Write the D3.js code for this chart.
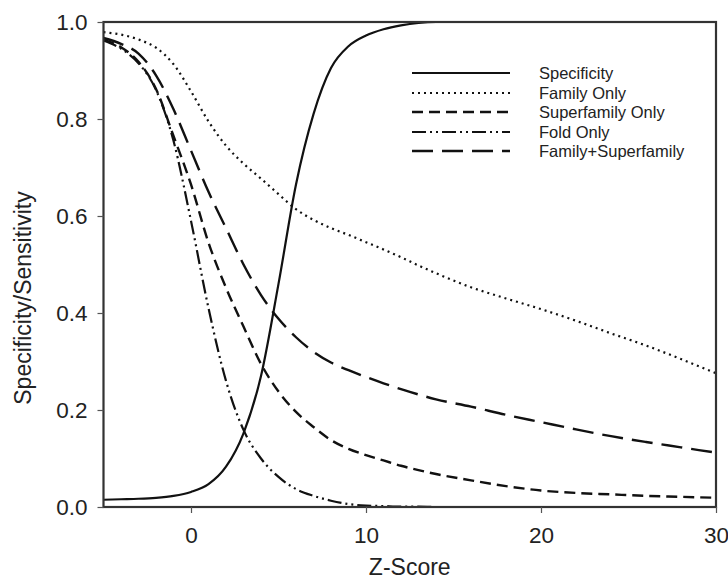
<!DOCTYPE html>
<html>
<head>
<meta charset="utf-8">
<script src="https://cdn.jsdelivr.net/npm/d3@7"></script>
<style>
  html, body { margin: 0; padding: 0; background: #fff; }
  svg { display: block; font-family: "Liberation Sans", Arial, sans-serif; }
</style>
</head>
<body>
<svg id="chart" width="728" height="579"></svg>
<script>
// ---- data ----
const zScores = [-5,-4,-3,-2,-1,0,1,2,3,4,5,6,7,8,9,10,11,12,13,14,16,18,20,22,24,26,28,30];
const specificity = [0.015,0.016,0.017,0.019,0.023,0.031,0.047,0.083,0.152,0.27,0.46,0.665,0.81,0.905,0.95,0.972,0.985,0.993,0.998,1.0,1.0,1.0,1.0,1.0,1.0,1.0,1.0,1.0];
const familyOnly = [0.979,0.974,0.964,0.947,0.913,0.857,0.795,0.745,0.708,0.677,0.645,0.614,0.592,0.575,0.561,0.546,0.531,0.515,0.498,0.482,0.453,0.43,0.408,0.384,0.358,0.333,0.305,0.276];
const superfamilyOnly = [0.963,0.948,0.918,0.862,0.765,0.665,0.545,0.452,0.372,0.295,0.238,0.196,0.165,0.138,0.12,0.107,0.096,0.085,0.076,0.068,0.055,0.043,0.034,0.029,0.026,0.023,0.021,0.019];
const foldOnly = [0.962,0.945,0.915,0.86,0.755,0.59,0.41,0.26,0.159,0.1,0.062,0.037,0.023,0.013,0.006,0.003,0.002,0.001,0.001,0,0,0,0,0,0,0,0,0];
const familySuperfamily = [0.967,0.955,0.935,0.89,0.82,0.735,0.65,0.575,0.5,0.437,0.388,0.35,0.32,0.298,0.282,0.268,0.255,0.243,0.232,0.222,0.207,0.19,0.175,0.16,0.146,0.134,0.123,0.112];
const seriesNames = ["Specificity","Family Only","Superfamily Only","Fold Only","Family+Superfamily"];
const xTicks = [0,10,20,30];
const yTicks = [0.0,0.2,0.4,0.6,0.8,1.0];
const xTitle = "Z-Score";
const yTitle = "Specificity/Sensitivity";

// ---- layout ----
const svg = d3.select("#chart");
const L = 103.5, R = 716, T = 22, B = 507;
const x = d3.scaleLinear().domain([-5,30]).range([L,R]);
const y = d3.scaleLinear().domain([0,1]).range([B,T]);

const seriesValues = [specificity, familyOnly, superfamilyOnly, foldOnly, familySuperfamily];
const styles = [
  {dash: null, width: 2.2},
  {dash: "2,4", width: 2.2},
  {dash: "11,6", width: 2.4},
  {dash: "14,4,2,4,2,4", width: 2.2},
  {dash: "21,9", width: 2.4}
];

const line = d3.line().x(d => x(d[0])).y(d => y(d[1])).curve(d3.curveMonotoneX);

const plot = svg.append("g");
seriesValues.forEach((vals, i) => {
  const pts = zScores.map((z, j) => [z, vals[j]]);
  plot.append("path")
    .datum(pts)
    .attr("d", line)
    .attr("fill", "none")
    .attr("stroke", "#111")
    .attr("stroke-width", styles[i].width)
    .attr("stroke-dasharray", styles[i].dash);
});

// frame
svg.append("rect").attr("x", L).attr("y", T).attr("width", R - L).attr("height", B - T)
  .attr("fill", "none").attr("stroke", "#333").attr("stroke-width", 2.2);

// axes
const xAxis = d3.axisBottom(x).tickValues(xTicks).tickSize(6).tickPadding(14).tickFormat(d3.format("d"));
const yAxis = d3.axisLeft(y).tickValues(yTicks).tickSize(6).tickPadding(10).tickFormat(d3.format(".1f"));
const gx = svg.append("g").attr("transform", `translate(0,${B})`).call(xAxis);
const gy = svg.append("g").attr("transform", `translate(${L},0)`).call(yAxis);
[gx, gy].forEach(g => {
  g.select(".domain").remove();
  g.selectAll(".tick line").attr("stroke", "#555").attr("stroke-width", 1.2);
  g.selectAll(".tick text").attr("fill", "#222").style("font-size", "22.5px")
    .style("font-family", "'Liberation Sans', Arial, sans-serif");
});

// titles
svg.append("text").attr("x", (L + R) / 2).attr("y", 575).attr("text-anchor", "middle")
  .attr("fill", "#222").style("font-size", "23px").text(xTitle);
svg.append("text").attr("transform", `translate(31,298) rotate(-90)`)
  .attr("text-anchor", "middle").attr("fill", "#222").style("font-size", "23px").text(yTitle);

// legend
const leg = svg.append("g");
const rowY = [73, 93, 112, 132, 151];
seriesNames.forEach((name, i) => {
  leg.append("line").attr("x1", 412).attr("x2", 510).attr("y1", rowY[i]).attr("y2", rowY[i])
    .attr("stroke", "#111").attr("stroke-width", styles[i].width)
    .attr("stroke-dasharray", styles[i].dash);
  leg.append("text").attr("x", 539).attr("y", rowY[i] + 5.5).attr("fill", "#222")
    .style("font-size", "16.5px").text(name);
});
</script>
</body>
</html>
